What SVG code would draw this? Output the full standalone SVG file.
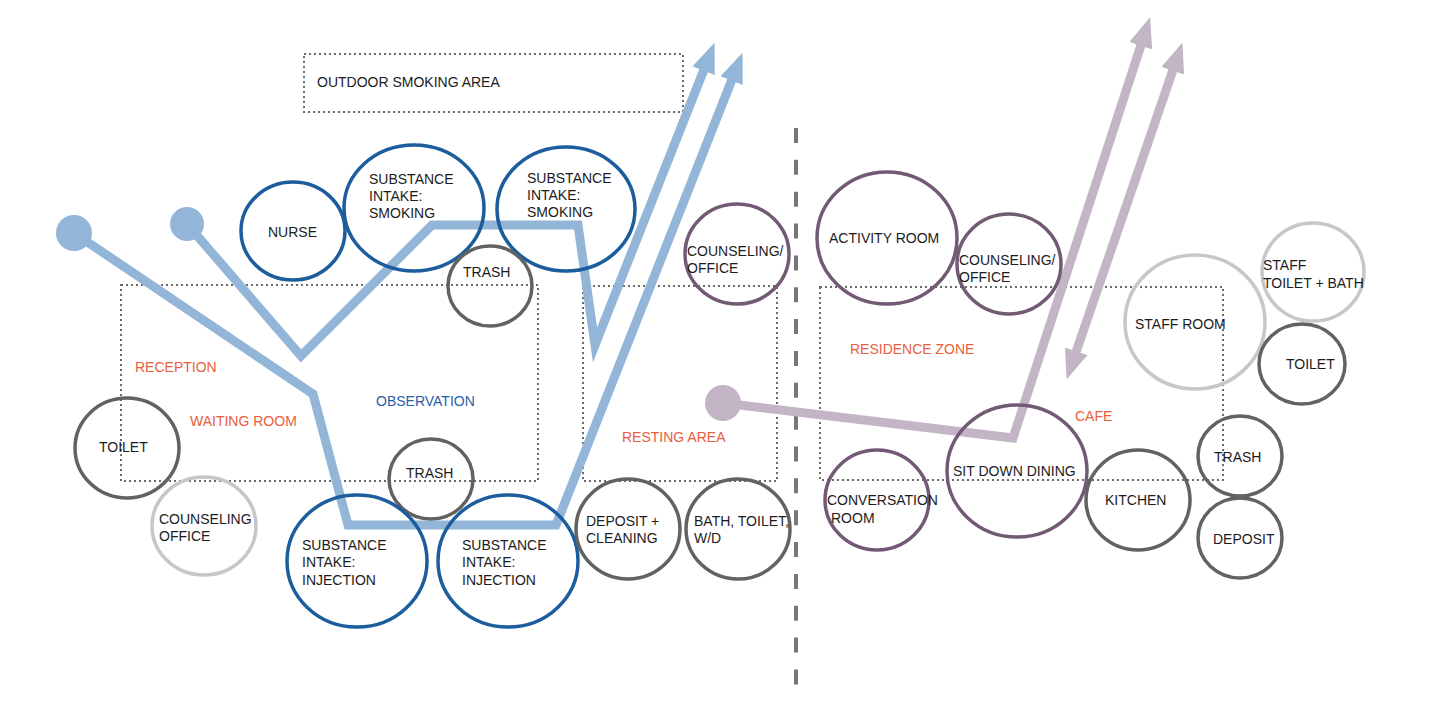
<svg xmlns="http://www.w3.org/2000/svg" width="1439" height="709" viewBox="0 0 1439 709">
<style>
text{font-family:"Liberation Sans",Arial,sans-serif;font-size:14px;fill:#1c1c1c}
.zone{fill:none;stroke:#6a6a6a;stroke-width:2;stroke-dasharray:2 3}
.ob{fill:#e8603c}
.obs{fill:#2a60a8}
.blue{fill:none;stroke:#1c5d9e;stroke-width:3.5}
.purp{fill:none;stroke:#725a74;stroke-width:3.5}
.gray{fill:none;stroke:#626262;stroke-width:3.5}
.lgray{fill:none;stroke:#c6c6cb;stroke-width:3.5}
.bl{fill:none;stroke:#92b5d8;stroke-width:9;stroke-linejoin:miter}
.pl{fill:none;stroke:#c3b5c6;stroke-width:9;stroke-linejoin:miter}
</style>
<defs>
<marker id="ab" markerUnits="userSpaceOnUse" markerWidth="30" markerHeight="24" refX="4" refY="12" orient="auto-start-reverse" viewBox="0 0 30 24"><path d="M0,0 L30,12 L0,24 z" fill="#92b5d8"/></marker>
<marker id="ap" markerUnits="userSpaceOnUse" markerWidth="30" markerHeight="24" refX="4" refY="12" orient="auto-start-reverse" viewBox="0 0 30 24"><path d="M0,0 L30,12 L0,24 z" fill="#c3b5c6"/></marker>
</defs>
<rect width="1439" height="709" fill="#fff"/>
<g id="zones">
<rect class="zone" x="304" y="54" width="379" height="58"/>
<rect class="zone" x="121" y="285" width="417" height="196"/>
<rect class="zone" x="583" y="286" width="194" height="195"/>
<rect class="zone" x="820" y="287" width="403" height="193"/>
<line x1="796" y1="128" x2="796" y2="685" stroke="#777" stroke-width="4" stroke-dasharray="15 16.85"/>
</g>
<g id="connectors">
<path class="bl" d="M74,233 L313,394 L348,525 L556,525 L733,77" marker-end="url(#ab)"/>
<path class="bl" d="M187,224 L301,356 L432,225 L578,225 L595,345 L705,67" marker-end="url(#ab)"/>
<circle cx="74" cy="233" r="18" fill="#92b5d8"/>
<circle cx="187" cy="224" r="17" fill="#92b5d8"/>
<path class="pl" d="M723,403 L1013,438 L1142,42" marker-end="url(#ap)"/>
<path class="pl" d="M1075,355 L1174,67" marker-start="url(#ap)" marker-end="url(#ap)"/>
<circle cx="723" cy="403" r="18" fill="#c3b5c6"/>
</g>
<g id="labels">
<text x="317" y="87">OUTDOOR SMOKING AREA</text>
<text class="ob" x="135" y="372">RECEPTION</text>
<text class="ob" x="190" y="426">WAITING ROOM</text>
<text class="obs" x="376" y="406">OBSERVATION</text>
<text class="ob" x="622" y="442">RESTING AREA</text>
<text class="ob" x="850" y="354">RESIDENCE ZONE</text>
<text class="ob" x="1075" y="421">CAFE</text>
</g>
<g id="nurse"><ellipse class="blue" cx="293" cy="231" rx="52" ry="49"/><text x="268" y="237">NURSE</text></g>
<g id="smoking1"><ellipse class="blue" cx="414" cy="208" rx="70" ry="63"/><text x="369" y="184">SUBSTANCE</text><text x="369" y="201">INTAKE:</text><text x="369" y="218">SMOKING</text></g>
<g id="smoking2"><ellipse class="blue" cx="566" cy="209" rx="69" ry="62"/><text x="527" y="183">SUBSTANCE</text><text x="527" y="200">INTAKE:</text><text x="527" y="217">SMOKING</text></g>
<g id="trash1"><ellipse class="gray" cx="490" cy="286" rx="42" ry="40"/><text x="463" y="277">TRASH</text></g>
<g id="counseling-mid"><ellipse class="purp" cx="737" cy="254" rx="52" ry="50"/><text x="687" y="256">COUNSELING/</text><text x="687" y="273">OFFICE</text></g>
<g id="toilet1"><ellipse class="gray" cx="127" cy="448" rx="52" ry="50"/><text x="99" y="452">TOILET</text></g>
<g id="counseling-left"><ellipse class="lgray" cx="204" cy="526" rx="52" ry="49"/><text x="159" y="524">COUNSELING</text><text x="159" y="541">OFFICE</text></g>
<g id="trash2"><ellipse class="gray" cx="431" cy="479" rx="42" ry="40"/><text x="406" y="478">TRASH</text></g>
<g id="injection1"><ellipse class="blue" cx="357" cy="561" rx="70" ry="66"/><text x="302" y="550">SUBSTANCE</text><text x="302" y="567">INTAKE:</text><text x="302" y="585">INJECTION</text></g>
<g id="injection2"><ellipse class="blue" cx="508" cy="561" rx="70" ry="66"/><text x="462" y="550">SUBSTANCE</text><text x="462" y="567">INTAKE:</text><text x="462" y="585">INJECTION</text></g>
<g id="deposit-cleaning"><ellipse class="gray" cx="628" cy="529" rx="52" ry="50"/><text x="586" y="526">DEPOSIT +</text><text x="586" y="543">CLEANING</text></g>
<g id="bath"><ellipse class="gray" cx="738" cy="529" rx="52" ry="50"/><text x="694" y="526">BATH, TOILET,</text><text x="694" y="543">W/D</text></g>
<g id="activity"><ellipse class="purp" cx="887" cy="238" rx="70" ry="66"/><text x="829" y="243">ACTIVITY ROOM</text></g>
<g id="counseling-right"><ellipse class="purp" cx="1009" cy="264" rx="52" ry="50"/><text x="959" y="265">COUNSELING/</text><text x="959" y="282">OFFICE</text></g>
<g id="dining"><ellipse class="purp" cx="1017" cy="471" rx="70" ry="66"/><text x="953" y="476">SIT DOWN DINING</text></g>
<g id="conversation"><ellipse class="purp" cx="877" cy="500" rx="52" ry="50"/><text x="827" y="505">CONVERSATION</text><text x="831" y="523">ROOM</text></g>
<g id="kitchen"><ellipse class="gray" cx="1138" cy="500" rx="52" ry="50"/><text x="1105" y="505">KITCHEN</text></g>
<g id="staffroom"><ellipse class="lgray" cx="1195" cy="322" rx="70" ry="67"/><text x="1135" y="329">STAFF ROOM</text></g>
<g id="staffbath"><ellipse class="lgray" cx="1313" cy="272" rx="51" ry="49"/><text x="1263" y="270">STAFF</text><text x="1263" y="288">TOILET + BATH</text></g>
<g id="toilet2"><ellipse class="gray" cx="1302" cy="364" rx="43" ry="40"/><text x="1286" y="369">TOILET</text></g>
<g id="trash3"><ellipse class="gray" cx="1240" cy="456" rx="42" ry="40"/><text x="1214" y="462">TRASH</text></g>
<g id="deposit"><ellipse class="gray" cx="1240" cy="538" rx="42" ry="40"/><text x="1213" y="544">DEPOSIT</text></g>
</svg>
